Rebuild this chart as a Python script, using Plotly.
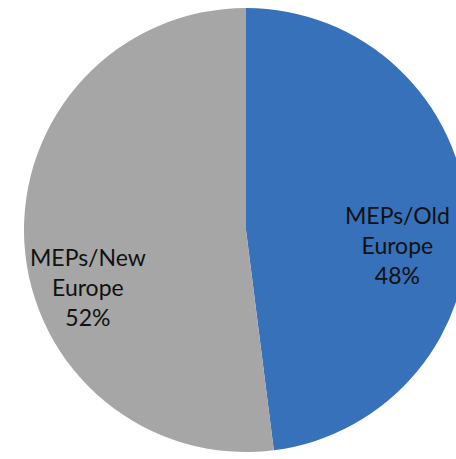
import plotly.graph_objects as go

labels = ["MEPs/Old Europe", "MEPs/New Europe"]
values = [48, 52]
display_lines = [["MEPs/Old", "Europe"], ["MEPs/New", "Europe"]]
colors = ["#3671BA", "#A6A6A6"]

W, H = 470, 459
total = sum(values)

fig = go.Figure(go.Pie(
    labels=labels, values=values, sort=False, direction="clockwise", rotation=0,
    marker=dict(colors=colors, line=dict(width=0)),
    textinfo="none", hoverinfo="label+percent",
    domain=dict(x=[24 / W, 468 / W], y=[1 - 452 / H, 1 - 8 / H]),
    showlegend=False,
))

label_pos = [(397, 245), (88, 287)]
for (lines, v, (px, py)) in zip(display_lines, values, label_pos):
    txt = "<br>".join(lines + [f"{round(100 * v / total)}%"])
    fig.add_annotation(x=px / W, y=1 - py / H, xref="paper", yref="paper",
                       xanchor="center", yanchor="middle",
                       text=txt, showarrow=False, align="center",
                       font=dict(family="Lato, Open Sans, sans-serif", size=23, color="#111111"))

fig.update_layout(width=W, height=H, margin=dict(l=0, r=0, t=0, b=0),
                  paper_bgcolor="white", plot_bgcolor="white")
fig.write_html("out.html")
